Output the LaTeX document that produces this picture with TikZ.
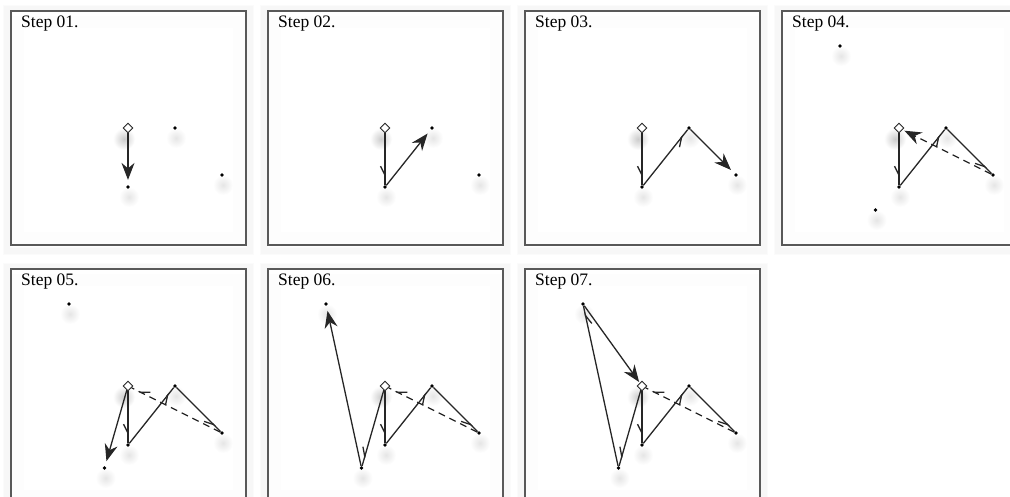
\documentclass[tikz,border=0pt]{standalone}
\usepackage{fontspec}
\setmainfont{Liberation Serif}
\usetikzlibrary{arrows.meta, shapes.geometric, decorations.markings}

\begin{document}
\begin{tikzpicture}[
    x=1pt, y=-1pt,
    ptdot/.style={circle, fill=black, inner sep=0pt, minimum size=3.8pt},
    start_node/.style={diamond, draw=black!85, fill=white, line width=0.9pt, inner sep=0pt, minimum size=10pt},
    stepframe/.style={draw=black!65, line width=1.5pt},
    steptitle/.style={anchor=base west, inner sep=0pt, font=\fontsize{17.5}{20}\selectfont},
    done/.style={black!85, line width=1.3pt, postaction={decorate},
        decoration={markings, mark=at position -7pt with {\arrow{Straight Barb[harpoon, swap, length=9pt, width=9pt]}}}},
    current/.style={-{Stealth[length=17pt, width=13pt, inset=5.5pt]}, black!85, line width=1.3pt, shorten >=5pt},
    back/.style={dash pattern=on 7pt off 5pt}
]
\useasboundingbox (0,0) rectangle (1010,497);

% frames, titles and the first points
\foreach \k/\px/\py in {1/11/11, 2/268/11, 3/525/11, 4/782/11, 5/11/269, 6/268/269, 7/525/269} {
  \begin{scope}[shift={(\px,\py)}, name prefix=s\k-]
    \foreach \i in {1,...,7}
      \draw[black, opacity=0.015, line width=2pt] (-\i,-\i+2) rectangle (235+\i,236+\i);
    \fill[white] (0,0) rectangle (235,234);
    \foreach \i in {2,4,...,12}
      \draw[black, opacity=0.008, line width=2pt] (\i,\i+4) rectangle (235-\i,234-\i);
    \shade[inner color=black!20, outer color=white] (113,128) circle (11);
    \shade[inner color=black!10, outer color=white] (118,186) circle (10);
    \shade[inner color=black!10, outer color=white] (165,127) circle (10);
    \shade[inner color=black!10, outer color=white] (212,174) circle (10);
    \draw[stepframe] (0,0) rectangle (235,234);
    \node[steptitle] (t) at (10,17) {Step 0\k.};
    \node[start_node] (o) at (117,117) {};
    \node[ptdot] (a) at (117,176) {};
    \node[ptdot] (b) at (164,117) {};
    \node[ptdot] (c) at (211,164) {};
  \end{scope}
}

% points added from step 04 on
\foreach \k/\px/\py in {4/782/11, 5/11/269, 6/268/269, 7/525/269} {
  \begin{scope}[shift={(\px,\py)}, name prefix=s\k-]
    \shade[inner color=black!10, outer color=white] (59,45) circle (10);
    \shade[inner color=black!10, outer color=white] (94.5,209) circle (10);
    \node[ptdot] (d) at (58,35) {};
    \node[ptdot] (e) at (93.5,199) {};
  \end{scope}
}

% finished moves
\foreach \k in {2,...,7} \draw[done] (s\k-o) -- (s\k-a);
\foreach \k in {3,...,7} \draw[done] (s\k-a) -- (s\k-b);
\foreach \k in {4,...,7} \draw[done] (s\k-b) -- (s\k-c);
\foreach \k in {5,6,7} \draw[done, back] (s\k-c) -- (s\k-o);
\foreach \k in {6,7} \draw[done] (s\k-o) -- (s\k-e);
\draw[done] (s7-e) -- (s7-d);

% current move
\draw[current] (s1-o) -- (s1-a);
\draw[current] (s2-a) -- (s2-b);
\draw[current] (s3-b) -- (s3-c);
\draw[current, back, shorten >=2pt] (s4-c) -- (s4-o);
\draw[current] (s5-o) -- (s5-e);
\draw[current] (s6-e) -- (s6-d);
\draw[current, shorten >=1pt] (s7-d) -- (s7-o);
\end{tikzpicture}
\end{document}
